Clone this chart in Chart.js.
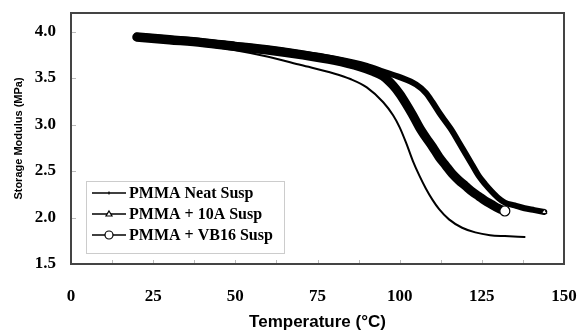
<!DOCTYPE html>
<html>
<head>
<meta charset="utf-8">
<script src="https://cdn.jsdelivr.net/npm/chart.js@4/dist/chart.umd.min.js"></script>
<style>
  html, body { margin: 0; padding: 0; background: #fff; }
  #wrap { width: 582px; height: 333px; }
</style>
</head>
<body>
<div id="wrap"><canvas id="chart"></canvas></div>
<script>
// Storage modulus vs temperature
const neatTemp = [20, 30, 40, 50, 60, 70, 80, 85, 90, 95, 98, 100, 102, 104, 106, 108, 110, 112, 115, 119, 123, 127.5, 132, 138];
const neatMod  = [3.92, 3.89, 3.85, 3.80, 3.73, 3.64, 3.55, 3.49, 3.40, 3.24, 3.10, 2.97, 2.80, 2.61, 2.45, 2.31, 2.19, 2.09, 1.98, 1.89, 1.84, 1.81, 1.80, 1.79];

const tenATemp = [20, 30, 40, 50, 60, 70, 80, 90, 95, 100, 105, 108, 110, 112, 114, 116, 118, 120, 122, 124, 126, 128, 130, 132, 135, 138, 141, 144];
const tenAMod  = [3.96, 3.93, 3.90, 3.86, 3.82, 3.77, 3.71, 3.63, 3.57, 3.51, 3.43, 3.34, 3.24, 3.13, 3.03, 2.93, 2.81, 2.69, 2.57, 2.45, 2.36, 2.28, 2.21, 2.16, 2.13, 2.10, 2.08, 2.06];

const vbTemp = [20, 30, 40, 50, 60, 70, 80, 88, 92, 95, 98, 100, 102, 104, 106, 108, 110, 112, 114, 116, 118, 120, 122, 124, 126, 128, 130, 132];
const vbMod  = [3.94, 3.91, 3.88, 3.84, 3.80, 3.75, 3.69, 3.62, 3.57, 3.52, 3.42, 3.33, 3.22, 3.10, 2.97, 2.86, 2.76, 2.65, 2.56, 2.47, 2.40, 2.34, 2.28, 2.23, 2.18, 2.14, 2.10, 2.07];

const xTicks = [0, 25, 50, 75, 100, 125, 150];
const yTicks = [1.5, 2.0, 2.5, 3.0, 3.5, 4.0];
const legendLabels = ['PMMA Neat Susp', 'PMMA + 10A Susp', 'PMMA + VB16 Susp'];

const serifBold = { family: '"Liberation Serif", "Times New Roman", serif', size: 17, weight: 'bold' };
const sansBold = { family: '"Liberation Sans", Arial, sans-serif', weight: 'bold' };

function toPoints(xs, ys) {
    return xs.map((x, i) => ({ x: x, y: ys[i] }));
}

function lastOnly(n, r) {
    return ctx => ctx.dataIndex === n - 1 ? r : 0;
}

// frame, inside tick marks and legend box
const framePlugin = {
    id: 'frame',
    afterDatasetsDraw(chart) {
        const { ctx, chartArea: a, scales } = chart;
        ctx.save();
        ctx.strokeStyle = '#bbb';
        ctx.lineWidth = 1;
        ctx.beginPath();
        for (let v = 12.5; v < 150; v += 12.5) {
            const px = Math.round(scales.x.getPixelForValue(v)) + 0.5;
            ctx.moveTo(px, a.bottom);
            ctx.lineTo(px, a.bottom - 4);
        }
        yTicks.forEach(v => {
            const py = Math.round(scales.y.getPixelForValue(v)) + 0.5;
            ctx.moveTo(a.left, py);
            ctx.lineTo(a.left + 5, py);
        });
        ctx.stroke();

        ctx.strokeStyle = '#444';
        ctx.lineWidth = 2;
        ctx.strokeRect(a.left, a.top, a.right - a.left, a.bottom - a.top);

        // legend
        const lx = 86, ly = 181, lw = 198, lh = 72;
        ctx.fillStyle = '#fff';
        ctx.fillRect(lx, ly, lw, lh);
        ctx.strokeStyle = '#ccc';
        ctx.lineWidth = 1;
        ctx.strokeRect(lx + 0.5, ly + 0.5, lw, lh);
        const rows = [193, 214, 235];
        ctx.font = 'bold 16px "Liberation Serif", "Times New Roman", serif';
        ctx.textBaseline = 'middle';
        rows.forEach((ry, i) => {
            ctx.strokeStyle = '#000';
            ctx.lineWidth = 1.6;
            ctx.beginPath();
            ctx.moveTo(92, ry);
            ctx.lineTo(126, ry);
            ctx.stroke();
            ctx.lineWidth = 1.2;
            if (i === 0) {
                ctx.beginPath();
                ctx.moveTo(109, ry - 1.5);
                ctx.lineTo(109, ry + 1.5);
                ctx.stroke();
            } else if (i === 1) {
                ctx.fillStyle = '#fff';
                ctx.beginPath();
                ctx.moveTo(109, ry - 3);
                ctx.lineTo(112, ry + 2);
                ctx.lineTo(106, ry + 2);
                ctx.closePath();
                ctx.fill();
                ctx.stroke();
            } else {
                ctx.fillStyle = '#fff';
                ctx.beginPath();
                ctx.arc(109, ry, 4, 0, Math.PI * 2);
                ctx.fill();
                ctx.stroke();
            }
            ctx.fillStyle = '#000';
            ctx.fillText(legendLabels[i], 129, ry + 1);
        });
        ctx.restore();
    }
};

new Chart(document.getElementById('chart'), {
    type: 'line',
    data: {
        datasets: [{
            label: legendLabels[2],
            data: toPoints(vbTemp, vbMod),
            borderColor: '#000',
            borderWidth: 9,
            borderCapStyle: 'round',
            borderJoinStyle: 'round',
            cubicInterpolationMode: 'monotone',
            pointRadius: lastOnly(vbTemp.length, 5),
            pointStyle: 'circle',
            pointBackgroundColor: '#fff',
            pointBorderColor: '#000',
            pointBorderWidth: 1.2
        }, {
            label: legendLabels[1],
            data: toPoints(tenATemp, tenAMod),
            borderColor: '#000',
            borderWidth: 6,
            borderCapStyle: 'round',
            borderJoinStyle: 'round',
            cubicInterpolationMode: 'monotone',
            pointRadius: lastOnly(tenATemp.length, 3),
            pointStyle: 'triangle',
            pointBackgroundColor: '#fff',
            pointBorderColor: '#000',
            pointBorderWidth: 1
        }, {
            label: legendLabels[0],
            data: toPoints(neatTemp, neatMod),
            borderColor: '#000',
            borderWidth: 2,
            borderCapStyle: 'round',
            cubicInterpolationMode: 'monotone',
            pointRadius: 0
        }]
    },
    options: {
        responsive: true,
        maintainAspectRatio: false,
        animation: false,
        layout: { padding: { left: 12, right: 18, top: 13, bottom: 0 } },
        plugins: {
            legend: { display: false },
            tooltip: { enabled: false }
        },
        scales: {
            x: {
                type: 'linear',
                min: 0,
                max: 150,
                afterBuildTicks: s => { s.ticks = xTicks.map(v => ({ value: v })); },
                afterFit: s => { s.height = 69; s.paddingLeft = 0; s.paddingRight = 0; },
                grid: { display: false, drawTicks: false },
                border: { display: false },
                ticks: { color: '#000', font: serifBold, padding: 22, maxRotation: 0 },
                title: {
                    display: true,
                    text: 'Temperature (°C)',
                    color: '#000',
                    font: { ...sansBold, size: 17 },
                    padding: { top: 3, bottom: 0 }
                }
            },
            y: {
                min: 1.5,
                max: 4.2,
                afterBuildTicks: s => { s.ticks = yTicks.map(v => ({ value: v })); },
                afterFit: s => { s.width = 59; s.paddingTop = 0; s.paddingBottom = 0; },
                grid: { display: false, drawTicks: false },
                border: { display: false },
                ticks: {
                    color: '#000',
                    font: serifBold,
                    padding: 15,
                    callback: v => v.toFixed(1)
                },
                title: {
                    display: true,
                    text: 'Storage Modulus (MPa)',
                    color: '#000',
                    font: { ...sansBold, size: 11 },
                    padding: { top: 0, bottom: 0 }
                }
            }
        }
    },
    plugins: [framePlugin]
});
</script>
</body>
</html>
